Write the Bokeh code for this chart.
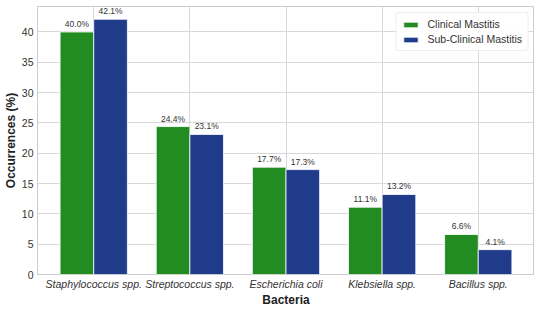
from bokeh.plotting import figure
from bokeh.models import ColumnDataSource, Range1d, FixedTicker, Legend, LegendItem
from bokeh.transform import dodge
from bokeh.core.properties import value
from bokeh.embed import file_html
from bokeh.resources import INLINE

categories = ["Staphylococcus spp.", "Streptococcus spp.", "Escherichia coli", "Klebsiella spp.", "Bacillus spp."]
clinical = [40.0, 24.4, 17.7, 11.1, 6.6]
subclinical = [42.1, 23.1, 17.3, 13.2, 4.1]
series_names = ["Clinical Mastitis", "Sub-Clinical Mastitis"]
y_ticks = [0, 5, 10, 15, 20, 25, 30, 35, 40]

FONT = "Liberation Sans"
GREEN = "#228b22"
BLUE = "#1f3b8a"

xs = list(range(len(categories)))
src = ColumnDataSource(dict(
    x=xs,
    clinical=clinical,
    subclinical=subclinical,
    clab=[f"{v:.1f}%" for v in clinical],
    slab=[f"{v:.1f}%" for v in subclinical],
))

p = figure(width=534, height=309, output_backend="svg", toolbar_location=None,
           x_range=Range1d(-0.585, 4.585), y_range=Range1d(0, max(subclinical) * 1.05),
           min_border_left=2, min_border_right=0, min_border_top=6, min_border_bottom=0)

w = 0.35
r1 = p.vbar(x=dodge("x", -w / 2, range=p.x_range), top="clinical", width=w, source=src,
            fill_color=GREEN, line_color="white", line_width=0.8)
r2 = p.vbar(x=dodge("x", w / 2, range=p.x_range), top="subclinical", width=w, source=src,
            fill_color=BLUE, line_color="white", line_width=0.8)

for col, lab, off in (("clinical", "clab", -w / 2), ("subclinical", "slab", w / 2)):
    p.text(x=dodge("x", off, range=p.x_range), y=col, text=lab, source=src,
           text_align="center", text_baseline="bottom", y_offset=-3,
           text_font_size=value("8.5px"), text_color=value("#333333"),
           text_font=value(FONT))

p.xaxis.ticker = FixedTicker(ticks=xs)
p.xaxis.major_label_overrides = {i: c for i, c in enumerate(categories)}
p.xaxis.major_label_text_font_style = "italic"
p.yaxis.ticker = FixedTicker(ticks=y_ticks)

for ax in (p.xaxis, p.yaxis):
    ax.major_label_text_font = FONT
    ax.major_label_text_font_size = "10.5px"
    ax.major_label_text_color = "#333333"
    ax.axis_label_text_font = FONT
    ax.axis_label_text_font_size = "12px"
    ax.axis_label_text_font_style = "bold"
    ax.axis_label_text_color = "#222222"
    ax.axis_line_color = None
    ax.major_tick_line_color = None
    ax.minor_tick_line_color = None
    ax.major_tick_out = 0
    ax.major_tick_in = 0
    ax.minor_tick_out = 0
    ax.major_label_standoff = 4
    ax.axis_label_standoff = 1

p.xaxis.major_label_standoff = 3
p.xaxis.axis_label_standoff = 0

p.xaxis.axis_label = "Bacteria"
p.yaxis.axis_label = "Occurrences (%)"

p.xgrid.grid_line_color = "#d8d8d8"
p.ygrid.grid_line_color = "#d8d8d8"
p.outline_line_color = "#cccccc"
p.background_fill_color = "white"

legend = Legend(items=[LegendItem(label=series_names[0], renderers=[r1]),
                       LegendItem(label=series_names[1], renderers=[r2])],
                location="top_right")
legend.label_text_font = FONT
legend.label_text_font_size = "10.5px"
legend.label_text_color = "#333333"
legend.border_line_color = "#dddddd"
legend.border_radius = 3
legend.glyph_width = 18
legend.glyph_height = 7
legend.spacing = 3
legend.padding = 5
legend.margin = 6
legend.label_standoff = 8
legend.label_height = 10
p.add_layout(legend)

open("out.html", "w").write(file_html(p, INLINE))
